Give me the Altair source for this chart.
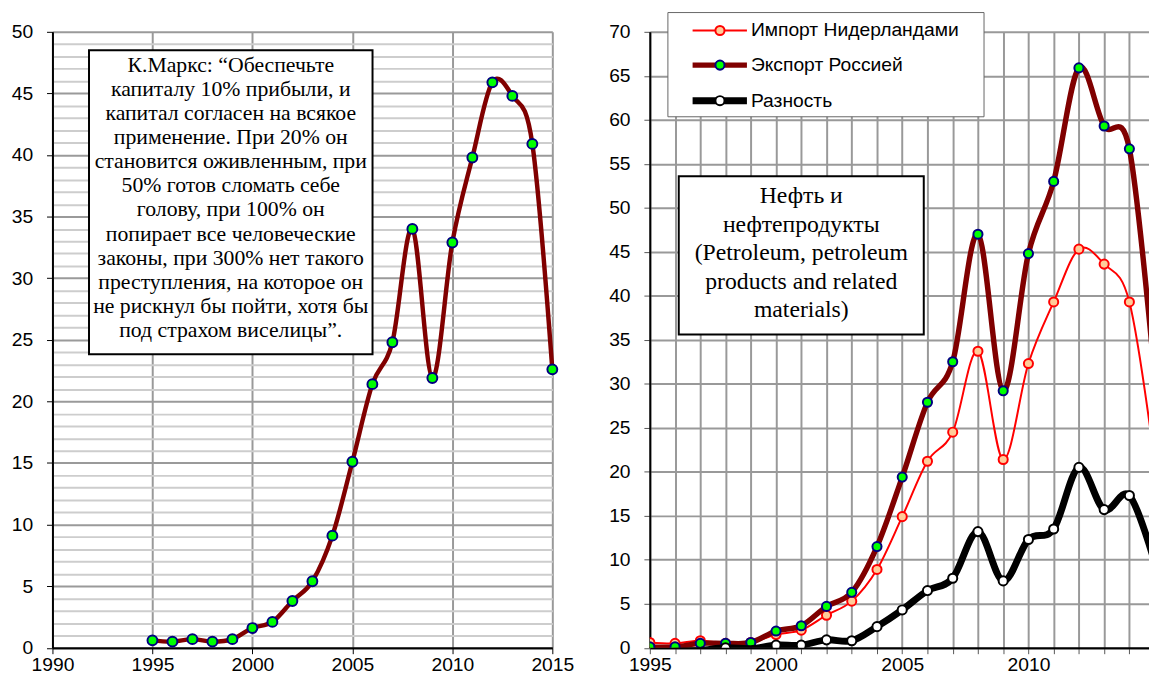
import altair as alt
import pandas as pd

# ---------------- data ----------------
YEARS = list(range(1995, 2016))
# left panel (single series)
PROFIT = [0.6, 0.5, 0.7, 0.5, 0.7, 1.6, 2.1, 3.8, 5.4, 9.1, 15.1, 21.4, 24.8,
          34.0, 21.9, 32.9, 39.8, 45.9, 44.8, 40.9, 22.6]
# right panel
IMPORT_NL = [0.6, 0.5, 0.8, 0.5, 0.6, 1.5, 2.0, 3.7, 5.3, 8.9, 14.9, 21.2, 24.5,
             33.7, 21.4, 32.3, 39.3, 45.3, 43.6, 39.3, 21.2]
EXPORT_RU = [0.1, 0.1, 0.5, 0.5, 0.6, 1.9, 2.5, 4.7, 6.3, 11.5, 19.4, 27.9, 32.5,
             47.0, 29.2, 44.8, 53.0, 65.9, 59.3, 56.7, 30.9]
DIFF = [-0.5, -0.4, -0.3, 0.0, -0.1, 0.3, 0.3, 0.9, 0.8, 2.4, 4.3, 6.5, 7.9,
        13.2, 7.6, 12.3, 13.5, 20.5, 15.7, 17.3, 9.7]

SERIES_NAMES = ["Импорт Нидерландами", "Экспорт Россией", "Разность"]

LEFT_X_TICKS = list(range(1990, 2016, 5))
LEFT_Y_TICKS = list(range(0, 51))
RIGHT_X_TICKS = list(range(1995, 2015))
RIGHT_Y_TICKS = list(range(0, 71, 5))

QUOTE_LINES = [
    "К.Маркс: “Обеспечьте",
    "капиталу 10% прибыли, и",
    "капитал согласен на всякое",
    "применение. При 20% он",
    "становится оживленным, при",
    "50% готов сломать себе",
    "голову, при 100% он",
    "попирает все человеческие",
    "законы, при 300% нет такого",
    "преступления, на которое он",
    "не рискнул бы пойти, хотя бы",
    "под страхом виселицы”.",
]
BOX_LINES = ["Нефть и", "нефтепродукты", "(Petroleum, petroleum",
             "products and related", "materials)"]

SANS = "Liberation Sans"
SERIF = "Liberation Serif"
FIVE = "datum.value % 5 === 0"

left_df = pd.DataFrame({"year": YEARS, "value": PROFIT})
imp_df = pd.DataFrame({"year": YEARS, "value": IMPORT_NL})
exp_df = pd.DataFrame({"year": YEARS, "value": EXPORT_RU})
dif_df = pd.DataFrame({"year": YEARS, "value": DIFF})
one = pd.DataFrame({"k": [0]})

W = 506
H = 623.5
RW = 505.3

# ---------------- left panel ----------------
lx = alt.X("year:Q", scale=alt.Scale(domain=[1990, 2015], nice=False, zero=False),
           axis=alt.Axis(values=LEFT_X_TICKS, tickCount=len(LEFT_X_TICKS), format="d",
                         title=None, grid=True,
                         gridColor="#999999", gridWidth=2, domainColor="black",
                         domainWidth=2, tickColor="black", tickSize=6,
                         labelFont=SANS, labelFontSize=19.5, labelColor="black",
                         labelPadding=2, labelFlush=False, labelOverlap=False))
ly = alt.Y("value:Q", scale=alt.Scale(domain=[0, 50], nice=False),
           axis=alt.Axis(values=LEFT_Y_TICKS, tickCount=len(LEFT_Y_TICKS), title=None,
                         grid=True,
                         gridColor={"condition": {"test": FIVE, "value": "#9a9a9a"},
                                    "value": "#cdcdcd"},
                         gridWidth=2, domainColor="black", domainWidth=2,
                         tickColor="black", tickSize=6,
                         tickOpacity={"condition": {"test": FIVE, "value": 1}, "value": 0},
                         labelExpr=f"{FIVE} ? datum.label : ''",
                         labelFont=SANS, labelFontSize=19.5, labelColor="black",
                         labelPadding=14, labelFlush=False, labelOverlap=False))

left_line = alt.Chart(left_df).mark_line(
    color="#800000", strokeWidth=4.5, interpolate="cardinal").encode(x=lx, y=ly)
left_pts = alt.Chart(left_df).mark_circle(
    size=100, color="#00FF00", stroke="#000080", strokeWidth=2, opacity=1
).encode(x="year:Q", y="value:Q")

quote_box = alt.Chart(one).mark_rect(fill="white", stroke="black", strokeWidth=2).encode(
    x=alt.value(37), x2=alt.value(324), y=alt.value(18.7), y2=alt.value(326.3))
quote_txt = alt.Chart(one).mark_text(
    font=SERIF, fontSize=22, lineHeight=24.4, align="center",
    baseline="alphabetic", color="black"
).encode(x=alt.value(180.5), y=alt.value(40.5), text=alt.value(QUOTE_LINES))

left = alt.layer(left_line, left_pts, quote_box, quote_txt).properties(width=W, height=H)

# ---------------- right panel ----------------
rx = alt.X("year:Q", scale=alt.Scale(domain=[1995, 2014.777], nice=False, zero=False),
           axis=alt.Axis(values=RIGHT_X_TICKS, tickCount=len(RIGHT_X_TICKS), format="d",
                         title=None, grid=True,
                         gridColor="#999999", gridWidth=2, domainColor="black",
                         domainWidth=2, tickColor="#555555", tickSize=6,
                         labelExpr=f"{FIVE} ? datum.label : ''",
                         labelFont=SANS, labelFontSize=19.5, labelColor="black",
                         labelPadding=2, labelFlush=False, labelOverlap=False))
ry = alt.Y("value:Q", scale=alt.Scale(domain=[0, 70], nice=False),
           axis=alt.Axis(values=RIGHT_Y_TICKS, tickCount=len(RIGHT_Y_TICKS), title=None,
                         grid=True,
                         gridColor="#999999", gridWidth=2, domainColor="black",
                         domainWidth=2, tickColor="#555555", tickSize=6,
                         labelFont=SANS, labelFontSize=19.5, labelColor="black",
                         labelPadding=14, labelFlush=False, labelOverlap=False))


def series(df, line_color, line_width, fill, stroke, first=False):
    enc_x = rx if first else alt.X("year:Q")
    enc_y = ry if first else alt.Y("value:Q")
    ln = alt.Chart(df).mark_line(color=line_color, strokeWidth=line_width,
                                 interpolate="cardinal", clip=True).encode(x=enc_x, y=enc_y)
    pt = alt.Chart(df).transform_filter("datum.value >= 0").mark_point(
        shape="circle", filled=True, fill=fill, stroke=stroke, strokeWidth=2,
        size=85, opacity=1, clip=True).encode(x="year:Q", y="value:Q")
    return [ln, pt]


def legend_entry(y, line_color, line_width, fill, stroke, label):
    ln = alt.Chart(one).mark_rule(color=line_color, strokeWidth=line_width).encode(
        x=alt.value(43.3), x2=alt.value(98.3), y=alt.value(y))
    dot = alt.Chart(one).mark_point(shape="circle", filled=True, fill=fill, stroke=stroke,
                                    strokeWidth=2, size=85, opacity=1).encode(
        x=alt.value(71), y=alt.value(y))
    tx = alt.Chart(one).mark_text(align="left", baseline="middle", font=SANS,
                                  fontSize=19.5, color="black").encode(
        x=alt.value(102.3), y=alt.value(y), text=alt.value(label))
    return [ln, dot, tx]


layers = []
layers += series(imp_df, "#FF0000", 2, "#FFCC99", "#FF0000", first=True)
layers += series(exp_df, "#800000", 5.5, "#00FF00", "#000080")
layers += series(dif_df, "#000000", 7, "#FFFFFF", "#000000")

info_box = alt.Chart(one).mark_rect(fill="white", stroke="black", strokeWidth=2).encode(
    x=alt.value(29.3), x2=alt.value(277.3), y=alt.value(146.3), y2=alt.value(306.3))
info_txt = alt.Chart(one).mark_text(
    font=SERIF, fontSize=24, lineHeight=28.75, align="center",
    baseline="alphabetic", color="black"
).encode(x=alt.value(153.3), y=alt.value(173.7), text=alt.value(BOX_LINES))
layers += [info_box, info_txt]

leg_box = alt.Chart(one).mark_rect(fill="white", stroke="#666666", strokeWidth=1).encode(
    x=alt.value(18.3), x2=alt.value(338.3), y=alt.value(-19.5), y2=alt.value(86))
layers.append(leg_box)
layers += legend_entry(-1.3, "#FF0000", 2, "#FFCC99", "#FF0000", SERIES_NAMES[0])
layers += legend_entry(33.7, "#800000", 5.5, "#00FF00", "#000080", SERIES_NAMES[1])
layers += legend_entry(69.7, "#000000", 7, "#FFFFFF", "#000000", SERIES_NAMES[2])

right = alt.layer(*layers).properties(width=RW, height=H)

chart = alt.hconcat(left, right, spacing=34.7).properties(
    padding={"left": 3, "top": 0, "right": 0, "bottom": 0},
    background="white",
).configure_view(stroke=None)

chart.save("out.html", embed_options={"renderer": "svg", "actions": False})
